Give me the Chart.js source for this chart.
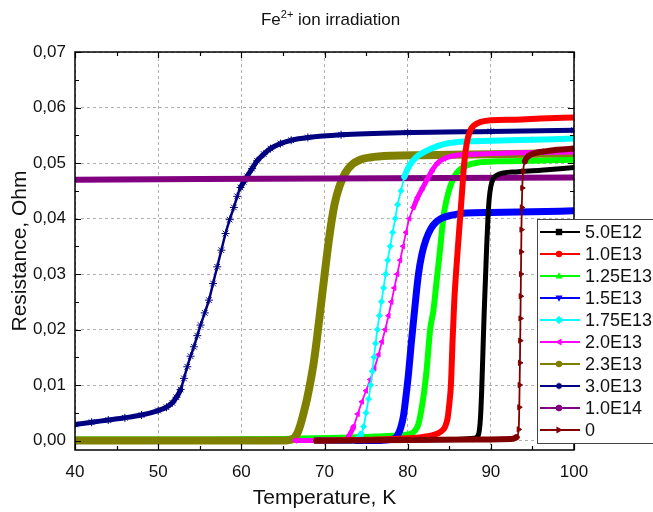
<!DOCTYPE html>
<html>
<head>
<meta charset="utf-8">
<script src="https://cdn.jsdelivr.net/npm/chart.js@4.4.0/dist/chart.umd.min.js"></script>
<style>
  html, body { margin: 0; padding: 0; background: #fff; }
</style>
</head>
<body>
<canvas id="chart" width="653" height="512"></canvas>
<script>
// --- data (Temperature in K, Resistance in Ohm) ---
const legendLabels = ['5.0E12', '1.0E13', '1.25E13', '1.5E13', '1.75E13', '2.0E13', '2.3E13', '3.0E13', '1.0E14', '0'];

const tBlack = [69, 80, 86, 88, 88.5, 88.75, 88.9, 89.05, 89.2, 89.35, 89.5, 89.65, 89.8, 90, 90.3, 90.7, 91.5, 93, 96, 100];
const rBlack = [0, 0.0001, 0.0002, 0.0004, 0.001, 0.004, 0.009, 0.016, 0.023, 0.029, 0.035, 0.040, 0.0435, 0.0458, 0.0472, 0.0478, 0.0482, 0.0484, 0.0487, 0.0492];

const tRed = [69, 78, 82, 84, 84.5, 84.8, 85, 85.2, 85.4, 85.6, 86, 86.3, 86.55, 86.8, 87.1, 87.5, 88, 88.8, 90, 93, 96, 100];
const rRed = [0, 0.0003, 0.0007, 0.0016, 0.0025, 0.004, 0.0065, 0.010, 0.018, 0.025, 0.034, 0.040, 0.045, 0.050, 0.0535, 0.0558, 0.0568, 0.0574, 0.0577, 0.0578, 0.058, 0.0582];

const tGreen = [40, 55, 65, 72, 77, 79.5, 80.7, 81.3, 81.7, 82, 82.3, 82.7, 83.1, 83.5, 83.9, 84.3, 84.7, 85.1, 85.6, 86.2, 87, 88.5, 91, 95, 100];
const rGreen = [0.0002, 0.0002, 0.0003, 0.0005, 0.0008, 0.001, 0.0015, 0.003, 0.006, 0.009, 0.013, 0.020, 0.0235, 0.029, 0.0345, 0.0403, 0.0435, 0.0457, 0.0475, 0.0487, 0.0495, 0.0501, 0.0503, 0.0504, 0.0506];

const tBlue = [69, 76, 78.3, 78.8, 79.2, 79.5, 79.8, 80.1, 80.4, 80.7, 81, 81.3, 81.7, 82.2, 82.8, 83.5, 84.3, 85.3, 87, 90, 95, 100];
const rBlue = [0, 0, 0.0003, 0.001, 0.0025, 0.0045, 0.008, 0.012, 0.017, 0.0215, 0.026, 0.030, 0.0335, 0.0362, 0.0382, 0.0395, 0.0402, 0.0406, 0.041, 0.0411, 0.0412, 0.0414];

const tCyan = [69, 73.5, 74, 74.4, 74.7, 75, 75.3, 75.55, 75.75, 75.95, 76.15, 76.35, 76.6, 76.85, 77.1, 77.35, 77.6, 77.9, 78.2, 78.5, 78.8, 79.2, 79.6, 80.2, 81, 82, 83.5, 85, 87, 90, 95, 100];
const rCyan = [0, 0, 0.0003, 0.0012, 0.0025, 0.005, 0.0075, 0.010, 0.0125, 0.015, 0.0175, 0.020, 0.0225, 0.025, 0.0275, 0.030, 0.0325, 0.035, 0.0375, 0.040, 0.0425, 0.045, 0.0475, 0.0495, 0.051, 0.052, 0.053, 0.0536, 0.0539, 0.054, 0.0542, 0.0544];

const tMagenta = [66.5, 72.5, 73, 73.5, 74, 74.5, 75, 75.5, 76, 76.5, 76.9, 77.3, 77.7, 78.05, 78.4, 78.75, 79.1, 79.45, 79.8, 80.2, 80.7, 81.2, 81.8, 82.4, 83, 83.6, 84.4, 85.5, 88, 92, 100];
const rMagenta = [0, 0.0002, 0.001, 0.0025, 0.0048, 0.007, 0.009, 0.011, 0.013, 0.0155, 0.0178, 0.020, 0.0225, 0.025, 0.0275, 0.030, 0.0325, 0.035, 0.0375, 0.040, 0.042, 0.0438, 0.0455, 0.0472, 0.0488, 0.050, 0.0508, 0.0513, 0.0516, 0.0518, 0.052];

const tOlive = [40, 50, 60, 65, 66.2, 66.7, 67.1, 67.5, 67.9, 68.3, 68.7, 69.1, 69.5, 69.9, 70.3, 70.7, 71.2, 71.8, 72.5, 73.3, 74.3, 75.5, 78, 82, 90, 100];
const rOlive = [0, 0, 0, 0, 0.0003, 0.0012, 0.0028, 0.005, 0.0075, 0.0105, 0.014, 0.0185, 0.0235, 0.0285, 0.0335, 0.038, 0.0425, 0.0458, 0.0482, 0.0497, 0.0506, 0.051, 0.0513, 0.0514, 0.0516, 0.0518];

const tNavy = [40, 42, 44, 46, 48, 50, 51, 51.7, 52.2, 52.7, 53.1, 53.5, 53.9, 54.3, 54.7, 55.1, 55.6, 56.1, 56.6, 57.1, 57.6, 58.1, 58.6, 59.1, 59.5, 59.9, 60.3, 60.7, 61.3, 61.9, 62.7, 63.5, 64.7, 66, 68, 72, 80, 90, 100];
const rNavy = [0.0029, 0.0033, 0.0037, 0.0041, 0.0046, 0.0054, 0.006, 0.0068, 0.0078, 0.0092, 0.0112, 0.0133, 0.0152, 0.0169, 0.0189, 0.0208, 0.023, 0.0253, 0.0283, 0.0313, 0.0343, 0.0373, 0.0398, 0.042, 0.044, 0.0456, 0.0466, 0.0476, 0.049, 0.0504, 0.0516, 0.0526, 0.0535, 0.0541, 0.0546, 0.0551, 0.0555, 0.0557, 0.0559];

const tPurple = [40, 55, 70, 85, 100];
const rPurple = [0.0470, 0.0471, 0.0472, 0.0473, 0.0474];

const tMaroon = [69, 80, 88, 92.5, 93.1, 93.35, 93.42, 93.46, 93.5, 93.53, 93.56, 93.59, 93.62, 93.65, 93.68, 93.72, 93.78, 93.88, 94.1, 94.5, 95.1, 96.5, 98, 100];
const rMaroon = [0, 0.0001, 0.0002, 0.0003, 0.0006, 0.002, 0.006, 0.010, 0.014, 0.018, 0.022, 0.026, 0.030, 0.034, 0.038, 0.042, 0.0455, 0.0485, 0.0503, 0.0512, 0.0517, 0.0521, 0.0524, 0.0526];

const seriesT = [tBlack, tRed, tGreen, tBlue, tCyan, tMagenta, tOlive, tNavy, tPurple, tMaroon];
const seriesR = [rBlack, rRed, rGreen, rBlue, rCyan, rMagenta, rOlive, rNavy, rPurple, rMaroon];

const xTicks = [40, 50, 60, 70, 80, 90, 100];
const yTicks = [0, 0.01, 0.02, 0.03, 0.04, 0.05, 0.06, 0.07];
const yTickLabels = ['0,00', '0,01', '0,02', '0,03', '0,04', '0,05', '0,06', '0,07'];

// --- styles ---
const colors = ['#000000', '#ff0000', '#00ff00', '#0000ff', '#00ffff', '#ff00ff', '#808000', '#000080', '#800080', '#800000'];
const markers = ['rect', 'circle', 'triangle', 'triangle', 'rectRot', 'triangle', 'circle', 'star', 'circle', 'triangle'];
const markerRot = [0, 0, 0, 180, 0, 270, 0, 0, 0, 90];
const bandWidth = [5, 6, 6, 7, 6, 5, 8, 5, 6, 6];
const steepWidth = [5, 6, 6, 7, 1.8, 1.8, 8, 2.5, 6, 1.8];
const markerSize = [0, 0, 0, 0, 3, 3, 0, 4, 0, 3];
const drawRank = [8, 7, 1, 4, 6, 5, 2, 0, 3, 9]; // 0 = bottom, 9 = top

const FONT = "'Liberation Sans', Arial, sans-serif";

function segWidth(thick, thin) {
  return function (ctx) {
    const dx = Math.abs(ctx.p1.x - ctx.p0.x);
    const dy = Math.abs(ctx.p1.y - ctx.p0.y);
    return dy > 2.5 * dx ? thin : thick;
  };
}

const datasets = legendLabels.map(function (label, i) {
  return {
    label: label,
    data: seriesT[i].map(function (t, j) { return { x: t, y: seriesR[i][j] }; }),
    borderColor: colors[i],
    backgroundColor: colors[i],
    pointBackgroundColor: colors[i],
    pointBorderColor: colors[i],
    pointStyle: markers[i],
    pointRotation: markerRot[i],
    pointRadius: markerSize[i],
    pointBorderWidth: 1,
    borderWidth: bandWidth[i],
    borderCapStyle: 'round',
    borderJoinStyle: 'round',
    cubicInterpolationMode: 'monotone',
    segment: { borderWidth: segWidth(bandWidth[i], steepWidth[i]) },
    order: 10 - drawRank[i]
  };
});

// small marker painter for the legend box
function drawMarker(ctx, style, rot, x, y, r) {
  ctx.save();
  ctx.translate(x, y);
  ctx.rotate(rot * Math.PI / 180);
  ctx.beginPath();
  if (style === 'rect') {
    ctx.rect(-r, -r, 2 * r, 2 * r);
    ctx.fill();
  } else if (style === 'rectRot') {
    ctx.moveTo(0, -r * 1.3); ctx.lineTo(r * 1.3, 0); ctx.lineTo(0, r * 1.3); ctx.lineTo(-r * 1.3, 0);
    ctx.closePath(); ctx.fill();
  } else if (style === 'triangle') {
    ctx.moveTo(0, -r * 1.2); ctx.lineTo(r * 1.1, r * 0.8); ctx.lineTo(-r * 1.1, r * 0.8);
    ctx.closePath(); ctx.fill();
  } else if (style === 'star') {
    ctx.lineWidth = 1.5;
    for (let k = 0; k < 4; k++) {
      const a = k * Math.PI / 4;
      ctx.moveTo(-Math.cos(a) * r, -Math.sin(a) * r);
      ctx.lineTo(Math.cos(a) * r, Math.sin(a) * r);
    }
    ctx.stroke();
  } else {
    ctx.arc(0, 0, r, 0, Math.PI * 2);
    ctx.fill();
  }
  ctx.restore();
}

const framePlugin = {
  id: 'frame',
  afterDatasetsDraw(chart) {
    const { ctx, chartArea: a, scales } = chart;
    const xs = scales.x, ys = scales.y;
    ctx.save();
    ctx.strokeStyle = '#000';
    ctx.lineWidth = 1.5;
    ctx.strokeRect(a.left, a.top, a.right - a.left, a.bottom - a.top);
    ctx.lineWidth = 1.2;
    ctx.beginPath();
    // x ticks, major and minor, pointing inward top and bottom
    for (let v = xTicks[0]; v <= xTicks[xTicks.length - 1]; v += 5) {
      const px = Math.round(xs.getPixelForValue(v)) + 0.5;
      const len = (v % 10 === 0) ? 6 : 4;
      ctx.moveTo(px, a.bottom); ctx.lineTo(px, a.bottom - len);
      ctx.moveTo(px, a.top); ctx.lineTo(px, a.top + len);
    }
    for (let k = 0; k <= 14; k++) {
      const v = k * 0.005;
      const py = Math.round(ys.getPixelForValue(v)) + 0.5;
      const len = (k % 2 === 0) ? 6 : 4;
      ctx.moveTo(a.left, py); ctx.lineTo(a.left + len, py);
      ctx.moveTo(a.right, py); ctx.lineTo(a.right - len, py);
    }
    ctx.stroke();

    // title with superscript
    ctx.fillStyle = '#111';
    ctx.textBaseline = 'alphabetic';
    const big = '17px ' + FONT, small = '11px ' + FONT;
    ctx.font = big;
    const w1 = ctx.measureText('Fe').width;
    const w3 = ctx.measureText(' ion irradiation').width;
    ctx.font = small;
    const w2 = ctx.measureText('2+').width;
    const cx = (a.left + a.right) / 2 + 6;
    let x0 = cx - (w1 + w2 + w3) / 2;
    const base = 25;
    ctx.font = big; ctx.fillText('Fe', x0, base);
    ctx.font = small; ctx.fillText('2+', x0 + w1, base - 7);
    ctx.font = big; ctx.fillText(' ion irradiation', x0 + w1 + w2, base);
    ctx.restore();
  },
  afterDraw(chart) {
    const ctx = chart.ctx;
    ctx.save();
    const bx = 537.5, by = 219.5, bw = 140, bh = 224;
    ctx.fillStyle = '#fff';
    ctx.fillRect(bx, by, bw, bh);
    ctx.strokeStyle = '#444';
    ctx.lineWidth = 1;
    ctx.strokeRect(bx, by, bw, bh);
    ctx.font = '18px ' + FONT;
    ctx.textBaseline = 'middle';
    legendLabels.forEach(function (label, i) {
      const y = 232 + i * 22;
      ctx.strokeStyle = colors[i];
      ctx.fillStyle = colors[i];
      ctx.lineWidth = 2;
      ctx.beginPath();
      ctx.moveTo(540, y); ctx.lineTo(580, y);
      ctx.stroke();
      drawMarker(ctx, markers[i], markerRot[i], 559, y, 3.2);
      ctx.fillStyle = '#111';
      ctx.fillText(label, 585, y + 1);
    });
    ctx.restore();
  }
};

new Chart(document.getElementById('chart'), {
  type: 'line',
  data: { datasets: datasets },
  plugins: [framePlugin],
  options: {
    responsive: false,
    animation: false,
    layout: { padding: { top: 52, right: 79, left: 0, bottom: 0 } },
    plugins: { legend: { display: false }, tooltip: { enabled: false }, title: { display: false } },
    scales: {
      x: {
        type: 'linear',
        min: 40,
        max: 100,
        afterFit(scale) { scale.height = 62; },
        afterBuildTicks(scale) { scale.ticks = xTicks.map(function (v) { return { value: v }; }); },
        ticks: { padding: 12, color: '#111', font: { family: FONT, size: 17 }, maxRotation: 0 },
        grid: { color: '#b0b0b0', lineWidth: 1, drawTicks: false },
        border: { display: false, dash: [3, 3] },
        title: { display: true, text: 'Temperature, K', color: '#111', font: { family: FONT, size: 21 }, padding: { top: 0, bottom: 1 } }
      },
      y: {
        type: 'linear',
        min: -0.0017,
        max: 0.07,
        afterFit(scale) { scale.width = 75; },
        afterBuildTicks(scale) { scale.ticks = yTicks.map(function (v) { return { value: v }; }); },
        ticks: {
          padding: 9, color: '#111', font: { family: FONT, size: 17 },
          callback: function (value, index) { return yTickLabels[index]; }
        },
        grid: { color: '#b0b0b0', lineWidth: 1, drawTicks: false },
        border: { display: false, dash: [3, 3] },
        title: { display: true, text: 'Resistance, Ohm', color: '#111', font: { family: FONT, size: 21 }, padding: { top: 8, bottom: 0 } }
      }
    }
  }
});
</script>
</body>
</html>
